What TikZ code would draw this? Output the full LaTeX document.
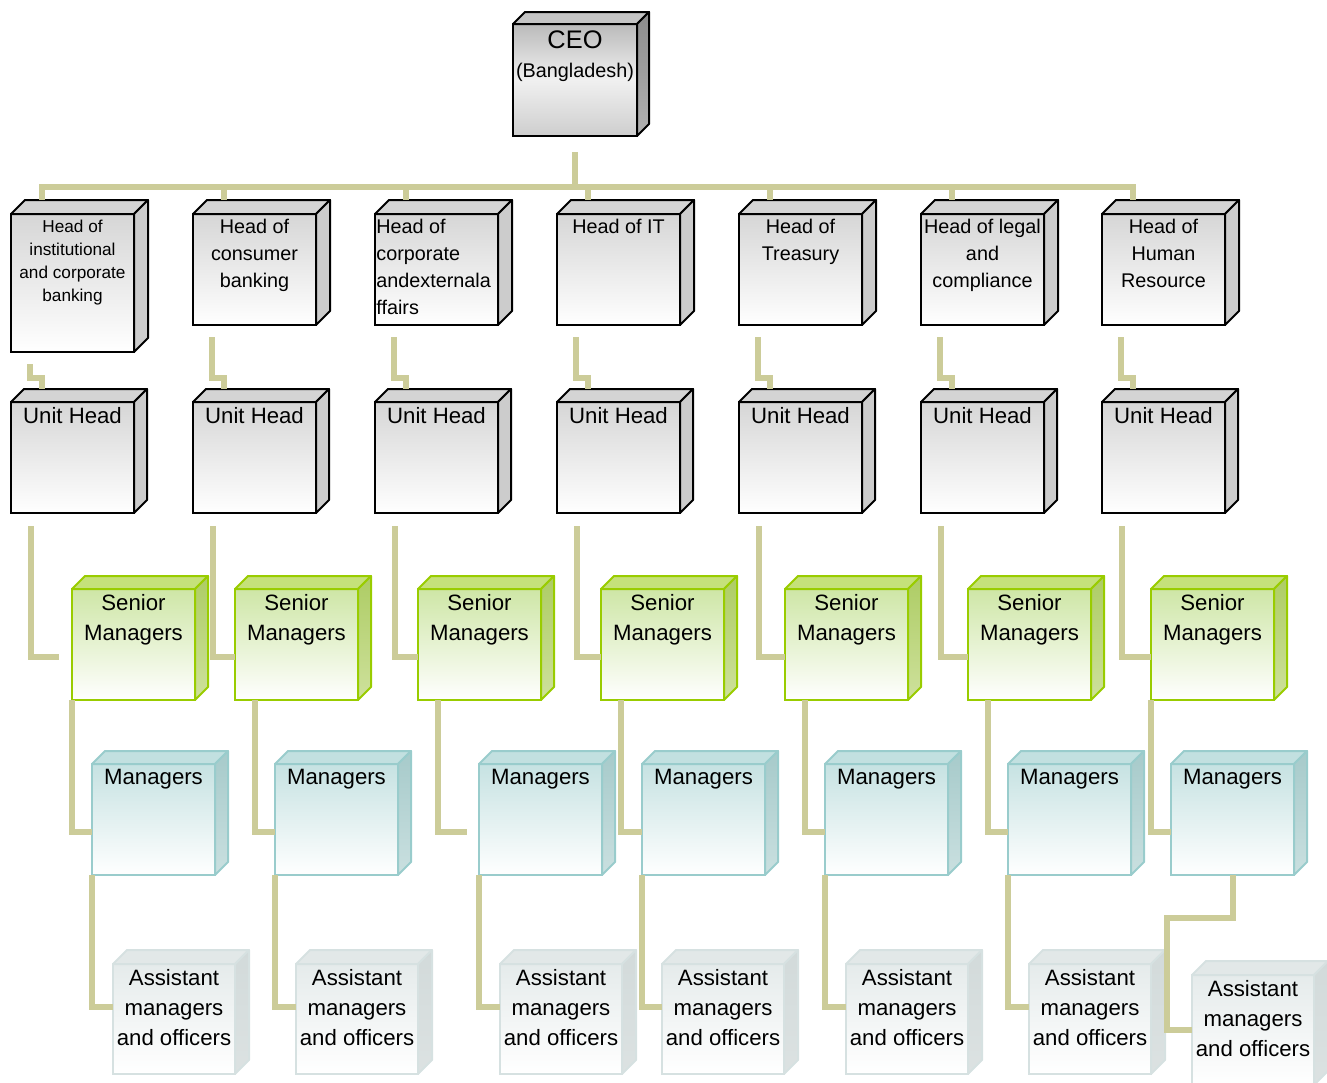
\documentclass[tikz,border=0pt]{standalone}
\usepackage{fontspec}
\setmainfont{Liberation Sans}
\usetikzlibrary{calc,positioning}
\tikzset{>=latex}
\definecolor{linkc}{RGB}{204,204,153}
\definecolor{headtop}{RGB}{214,214,214}
\definecolor{headface}{RGB}{212,212,212}
\definecolor{headside}{RGB}{204,204,204}
\definecolor{ceotop}{RGB}{186,186,186}
\definecolor{ceomid}{RGB}{240,240,240}
\definecolor{ceobot}{RGB}{206,206,206}
\definecolor{ceoface}{RGB}{196,196,196}
\definecolor{ceoside}{RGB}{140,140,140}
\definecolor{ceosidebot}{RGB}{178,178,178}
\definecolor{srline}{RGB}{153,204,0}
\definecolor{srtop}{RGB}{206,230,166}
\definecolor{srface}{RGB}{197,225,122}
\definecolor{srside}{RGB}{173,204,100}
\definecolor{srsidebot}{RGB}{206,225,156}
\definecolor{mgline}{RGB}{153,204,204}
\definecolor{mgtop}{RGB}{198,226,226}
\definecolor{mgface}{RGB}{194,224,224}
\definecolor{mgside}{RGB}{166,202,202}
\definecolor{mgsidebot}{RGB}{202,224,224}
\definecolor{asline}{RGB}{214,225,225}
\definecolor{astop}{RGB}{229,235,235}
\definecolor{asface}{RGB}{226,232,232}
\definecolor{asside}{RGB}{210,218,218}
\definecolor{assidebot}{RGB}{220,226,226}
\tikzset{link/.style={draw=linkc, line width=3pt}}
\tikzset{cube/.style={rectangle, anchor=north west, inner sep=0pt, outer sep=0pt,
    minimum width=61.5pt, minimum height=55.5pt, line width=1pt}}
\tikzset{ceobox/.style={cube, draw=black, top color=ceotop, bottom color=ceobot,
    middle color=ceomid, minimum width=62pt, minimum height=56pt}}
\tikzset{headbox/.style={cube, draw=black, top color=headtop, bottom color=white}}
\tikzset{seniorbox/.style={cube, draw=srline, top color=srtop, bottom color=white}}
\tikzset{mgrbox/.style={cube, draw=mgline, top color=mgtop, bottom color=white}}
\tikzset{asstbox/.style={cube, draw=asline, top color=astop, bottom color=white,
    minimum width=61pt, minimum height=55pt}}
\tikzset{lbl/.style={inner sep=0pt, align=center, font=\fontsize{11.1}{15}\selectfont}}
\tikzset{headlbl/.style={lbl, font=\fontsize{9.9}{13.4}\selectfont}}
% top and side faces of a box node: name, depth, line, top face, side (top), side (bottom)
\newcommand{\boxsides}[6]{%
  \filldraw[draw=#3, fill=#4, line width=1pt, line join=round]
    (#1.north west) -- ++(#2,-#2) -- ([shift={(#2,-#2)}]#1.north east) -- (#1.north east) -- cycle;
  \shadedraw[draw=#3, top color=#5, bottom color=#6, line width=1pt, line join=round]
    (#1.north east) -- ++(#2,-#2) -- ([shift={(#2,-#2)}]#1.south east) -- (#1.south east) -- cycle;
}

\begin{document}
\begin{tikzpicture}[x=0.5pt,y=-0.5pt]
  \useasboundingbox (0,0) rectangle (1327,1082);
  % CEO
  \node[ceobox] (ceo) at (513,24) {};
  \boxsides{ceo}{12}{black}{ceoface}{ceoside}{ceosidebot}
  \node[lbl, font=\fontsize{12.7}{15}\selectfont] (ceot) at ([yshift=-8pt]ceo.north) {CEO};
  \node[lbl, font=\fontsize{9.9}{12}\selectfont] (ceob) at ([yshift=-24pt]ceo.north) {(Bangladesh)};
  % heads and unit heads
  \node[headbox, minimum height=69pt] (h1) at (11,214) {};
  \boxsides{h1}{14}{black}{headface}{headside}{headside}
  \foreach \i/\x in {2/193,3/375,4/557,5/739,6/921,7/1102} {
    \node[headbox] (h\i) at (\x,214) {};
    \boxsides{h\i}{14}{black}{headface}{headside}{headside}
  }
  \foreach \i/\x in {1/11,2/193,3/375,4/557,5/739,6/921,7/1102} {
    \node[headbox] (u\i) at (\x,402) {};
    \boxsides{u\i}{13}{black}{headface}{headside}{headside}
    \node[lbl, below=2.5pt of u\i.north] (ut\i) {Unit Head};
  }
  \node[lbl, font=\fontsize{8.6}{11.5}\selectfont, below=3pt of h1.north] (ht1)
    {Head of\\institutional\\and corporate\\banking};
  \node[headlbl, below=2.5pt of h2.north] (ht2) {Head of\\consumer\\banking};
  \node[headlbl, align=left, anchor=north west] (ht3) at ([shift={(1,5)}]h3.north west)
    {Head of\\corporate\\andexternala\\ffairs};
  \node[headlbl, below=2.5pt of h4.north] (ht4) {Head of IT};
  \node[headlbl, below=2.5pt of h5.north] (ht5) {Head of\\Treasury};
  \node[headlbl, below=2.5pt of h6.north] (ht6) {Head of legal\\and\\compliance};
  \node[headlbl, below=2.5pt of h7.north] (ht7) {Head of\\Human\\Resource};
  % senior managers
  \foreach \i/\x in {1/72,2/235,3/418,4/601,5/785,6/968,7/1151} {
    \node[seniorbox] (s\i) at (\x,589) {};
    \boxsides{s\i}{13}{srline}{srface}{srside}{srsidebot}
    \node[lbl, below=2.5pt of s\i.north] (st\i) {Senior\\Managers};
  }
  % managers
  \foreach \i/\x in {1/92,2/275,3/479,4/642,5/825,6/1008,7/1171} {
    \node[mgrbox] (m\i) at (\x,764) {};
    \boxsides{m\i}{13}{mgline}{mgface}{mgside}{mgsidebot}
    \node[lbl, below=2.5pt of m\i.north] (mt\i) {Managers};
  }
  % assistant managers
  \foreach \i/\x/\y in {1/113/964,2/296/964,3/500/964,4/662/964,5/846/964,6/1029/964,7/1192/975} {
    \node[asstbox] (a\i) at (\x,\y) {};
    \boxsides{a\i}{14}{asline}{asface}{asside}{assidebot}
    \node[lbl, below=2.5pt of a\i.north] (at\i) {Assistant\\managers\\and officers};
  }
  % links
  \coordinate (barl) at ([shift={(31,-27)}]h1.north west);
  \coordinate (barr) at ([shift={(31,-27)}]h7.north west);
  \draw[link] ([yshift=-8pt]ceo.south) -- (ceo.south |- barl);
  \draw[link] ([shift={(31,-14)}]h1.north west) -- (barl) -- (barr) -- ([shift={(31,-14)}]h7.north west);
  \foreach \i in {2,...,6}
    \draw[link] ([shift={(31,-27)}]h\i.north west) -- ([shift={(31,-14)}]h\i.north west);
  \foreach \i in {1,...,7} {
    \draw[link] ([shift={(19,12)}]h\i.south west) |- ([shift={(31,-24)}]u\i.north west)
      -- ([shift={(31,-13)}]u\i.north west);
  }
  \foreach \i/\g in {1/13,2/0,3/0,4/0,5/0,6/0,7/0}
    \draw[link] ([shift={(20,13)}]u\i.south west) |- ([shift={(-\g,68)}]s\i.north west);
  \foreach \i/\d/\g in {1/0/0,2/20/0,3/20/12,4/20/0,5/20/0,6/20/0,7/0/0}
    \draw[link] ([shift={(\d,0)}]s\i.south west) |- ([shift={(-\g,68)}]m\i.north west);
  \foreach \i in {1,...,6}
    \draw[link] (m\i.south west) |- ([yshift=-21.5pt]a\i.north west);
  \draw[link] (m7.south) -- ++(0,43) -| ([shift={(-25,55)}]a7.north west)
    -- ([yshift=-27.5pt]a7.north west);
\end{tikzpicture}
\end{document}
